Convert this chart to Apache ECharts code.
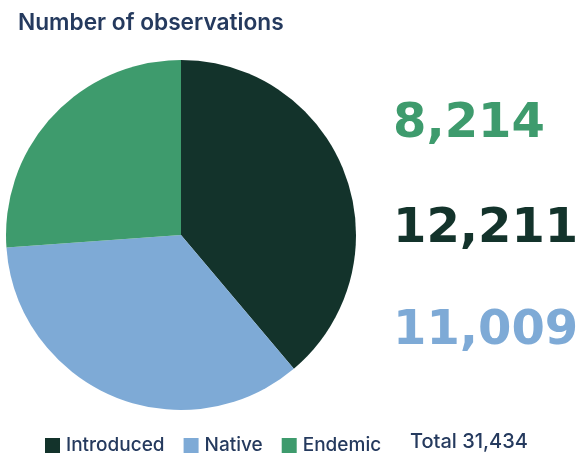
<!DOCTYPE html>
<html><head><meta charset="utf-8">
<script src="https://cdn.jsdelivr.net/npm/echarts@6/dist/echarts.min.js"></script>
<style>html,body{margin:0;padding:0;background:#fff}#c{width:585px;height:462px}</style>
</head><body><div id="c"></div>
<script>
const categories = ['Introduced', 'Native', 'Endemic'];
const values = [12211, 11009, 8214];
const colors = ['#13332b', '#7eaad6', '#3e9b6d'];
const fmt = v => v.toLocaleString('en-US');
const total = values.reduce((a, b) => a + b, 0);

const chart = echarts.init(document.getElementById('c'));
const bigFont = 'bold 48px "DejaVu Sans", sans-serif';
const labelOrder = [2, 0, 1];
const labelY = [101, 206, 308];
chart.setOption({
  animation: false,
  title: {
    text: 'Number of observations', left: 13, top: 7,
    textStyle: { fontFamily: 'Inter, "Noto Sans", sans-serif', fontSize: 22.7, fontWeight: 600, color: '#253a5e' }
  },
  legend: {
    left: 40, top: 431, itemWidth: 15, itemHeight: 15, itemGap: 19, icon: 'rect',
    textStyle: { fontFamily: 'Inter, "Noto Sans", sans-serif', fontSize: 19, fontWeight: 500, color: '#253a5e', padding: [0, 0, 0, 1] },
    data: categories
  },
  graphic: labelOrder.map((idx, i) => ({
    type: 'text', left: 393, top: labelY[i],
    style: { text: fmt(values[idx]), font: bigFont, fill: colors[idx] }
  })).concat([{
    type: 'text', left: 410, top: 432,
    style: { text: 'Total ' + fmt(total), font: '500 20px Inter, "Noto Sans", sans-serif', fill: '#253a5e' }
  }]),
  series: [{
    type: 'pie', center: [181, 235], radius: 175, startAngle: 90, clockwise: true,
    label: { show: false }, labelLine: { show: false }, emphasis: { disabled: true },
    itemStyle: { borderWidth: 0 },
    data: categories.map((c, i) => ({ name: c, value: values[i], itemStyle: { color: colors[i] } }))
  }]
});
</script></body></html>
